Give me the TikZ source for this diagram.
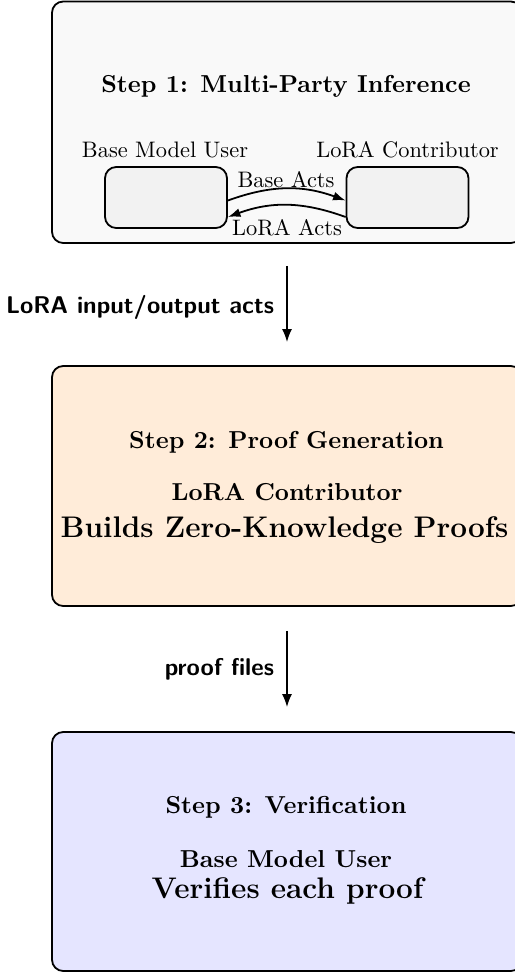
\documentclass[tikz,border=0pt]{standalone}
\usetikzlibrary{arrows.meta}
\begin{document}
\def\px{0.4464pt}
\begin{tikzpicture}[x=\px, y=-\px,
  stepbox/.style={draw, thick, rounded corners=5pt, minimum width={470*\px}, inner sep=0pt},
  party/.style={draw, thick, rounded corners=5pt, fill=gray!10, minimum width={122*\px}, minimum height={61*\px}, inner sep=0pt},
  ttl/.style={font=\fontsize{10.95}{13}\selectfont\bfseries, anchor=base, inner sep=0pt},
  big/.style={font=\fontsize{13.3}{16}\selectfont\bfseries, anchor=base, inner sep=0pt},
  lbl/.style={font=\fontsize{10}{12}\selectfont, anchor=base, inner sep=0pt},
  flow/.style={thick, -{Latex[length=5.8pt,width=4.5pt]}},
  xchg/.style={thick, -{Latex[length=5.6pt,width=4pt]}},
  flowlbl/.style={font=\fontsize{10.8}{13}\selectfont\sffamily\bfseries, anchor=east, inner sep=0pt, xshift=-5.4pt}
]
\useasboundingbox (0,0) rectangle (515,974);

% step boxes
\node[stepbox, fill=gray!5, minimum height={241.5*\px}] (s1) at (287,122.25) {};
\node[stepbox, fill=orange!15, minimum height={240*\px}] (s2) at (287,486) {};
\node[stepbox, fill=blue!10, minimum height={239*\px}] (s3) at (287,851.5) {};

% step 1
\node[ttl] (t1) at (286,92) {Step 1: Multi-Party Inference};
\node[lbl] (l1) at (165,157) {Base Model User};
\node[lbl] (l2) at (407.5,157) {LoRA Contributor};
\node[party] (pu) at (166,197.5) {};
\node[party] (pc) at (407.5,197.5) {};
\draw[xchg] ([yshift=-3*\px]pu.east) to[bend left=20] ([yshift=-3*\px]pc.west);
\draw[xchg] ([yshift=-19.5*\px]pc.west) to[bend right=20] ([yshift=-19.5*\px]pu.east);
\node[lbl] (ba) at (286,187) {Base Acts};
\node[lbl] (la) at (287,235) {LoRA Acts};

% step 2
\node[ttl] (t2) at (286.5,448) {Step 2: Proof Generation};
\node[ttl] (r2) at (287,500) {LoRA Contributor};
\node[big] (d2) at (284.5,537) {Builds Zero-Knowledge Proofs};

% step 3
\node[ttl] (t3) at (286,813) {Step 3: Verification};
\node[ttl] (r3) at (286,867) {Base Model User};
\node[big] (d3) at (287.5,898) {Verifies each proof};

% flow arrows
\draw[flow, shorten <=22*\px, shorten >=23*\px] (s1.south) -- node[flowlbl, midway, yshift=-3*\px] (f1) {LoRA input/output acts} (s2.north);
\draw[flow, shorten <=24*\px, shorten >=24*\px] (s2.south) -- node[flowlbl, midway] (f2) {proof files} (s3.north);
\end{tikzpicture}
\end{document}
